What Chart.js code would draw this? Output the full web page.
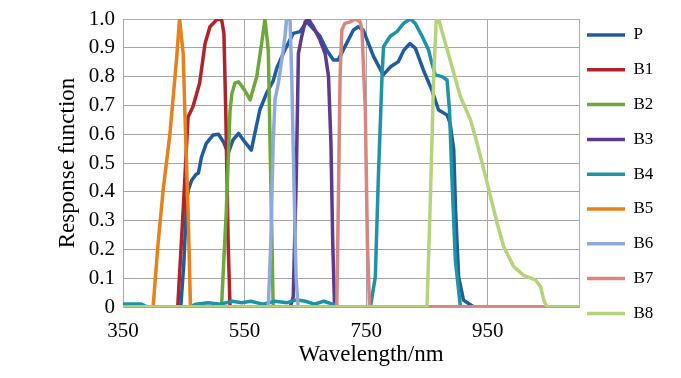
<!DOCTYPE html>
<html>
<head>
<meta charset="utf-8">
<script src="https://cdn.jsdelivr.net/npm/chart.js@4.4.1/dist/chart.umd.min.js"></script>
<style>
    html, body { margin: 0; padding: 0; background: #ffffff; }
    canvas { display: block; }
</style>
</head>
<body>
<canvas id="responseChart" width="681" height="378"></canvas>
<script>
// wavelength (nm), response
const seriesNames = ['P', 'B1', 'B2', 'B3', 'B4', 'B5', 'B6', 'B7', 'B8'];

const pData = [[350, 0], [445, 0], [450, 0.15], [455, 0.38], [458, 0.41], [463, 0.44], [470, 0.46],
    [474, 0.465], [479, 0.52], [487, 0.568], [498, 0.597], [507, 0.6], [515, 0.574], [523, 0.534],
    [531, 0.58], [540, 0.603], [550, 0.574], [561, 0.545], [575, 0.684], [586, 0.742], [597, 0.785],
    [603, 0.83], [616, 0.892], [630, 0.95], [641, 0.956], [652, 0.99], [660, 0.973], [674, 0.94],
    [685, 0.892], [696, 0.858], [704, 0.858], [715, 0.904], [729, 0.962], [737, 0.973], [745, 0.962],
    [762, 0.87], [778, 0.806], [790, 0.834], [803, 0.852], [812, 0.892], [822, 0.915], [831, 0.898],
    [844, 0.823], [858, 0.753], [869, 0.684], [883, 0.667], [888, 0.638], [894, 0.545], [897, 0.337],
    [902, 0.105], [910, 0.024], [927, 0], [1100, 0]];
const b1Data = [[350, 0], [440, 0], [449, 0.337], [457, 0.66], [465, 0.695], [476, 0.777], [485, 0.915],
    [493, 0.973], [504, 0.997], [512, 1.0], [516, 0.95], [519, 0.68], [523, 0.22], [526, 0], [1100, 0]];
const b2Data = [[350, 0], [512, 0], [520, 0.337], [526, 0.68], [529, 0.74], [534, 0.777], [540, 0.782],
    [550, 0.753], [559, 0.719], [570, 0.8], [578, 0.915], [583.5, 1.0], [589, 0.89], [593, 0.45],
    [597, 0], [1100, 0]];
const b3Data = [[350, 0], [625, 0], [630, 0.036], [635, 0.45], [638.5, 0.88], [644, 0.94], [649.5, 0.99],
    [655, 1.0], [663, 0.973], [674, 0.927], [682.5, 0.88], [688, 0.8], [692, 0.568], [695, 0.22],
    [698, 0], [1100, 0]];
const b4Data = [[350, 0.01], [380, 0.01], [390, 0], [460, 0], [470, 0.01], [490, 0.015], [510, 0.01],
    [530, 0.02], [545, 0.015], [560, 0.02], [580, 0.01], [600, 0.02], [620, 0.015], [635, 0.025],
    [650, 0.02], [665, 0.01], [680, 0.02], [695, 0.01], [705, 0], [757, 0], [765, 0.105], [770, 0.45],
    [776, 0.8], [778.5, 0.904], [789.5, 0.94], [800.6, 0.956], [811.5, 0.985], [822.5, 1.0],
    [830.7, 0.985], [842, 0.94], [852.6, 0.892], [858, 0.846], [863.7, 0.806], [874.7, 0.8],
    [883, 0.788], [887, 0.684], [891, 0.45], [896.6, 0.163], [905, 0], [1100, 0]];
const b5Data = [[350, 0], [399.5, 0], [407.7, 0.22], [416, 0.406], [427, 0.597], [438, 0.858],
    [443, 1.0], [449, 0.88], [451.7, 0.68], [457, 0.337], [461, 0], [1100, 0]];
const b6Data = [[350, 0], [589, 0], [593, 0.22], [597, 0.57], [600, 0.72], [605.5, 0.777], [611, 0.858],
    [616.5, 0.94], [619, 1.0], [624.7, 1.0], [627.5, 0.8], [631, 0.45], [634.6, 0.105], [638, 0],
    [1100, 0]];
const b7Data = [[350, 0], [701.6, 0], [704, 0.337], [707, 0.8], [710, 0.962], [715, 0.985],
    [723.6, 0.99], [732, 1.0], [740, 0.99], [743, 0.962], [748.5, 0.684], [752, 0.22], [755.5, 0],
    [1050, 0]];
const b8Data = [[350, 0], [850, 0], [855, 0.337], [861, 0.8], [865.3, 1.0], [869, 1.0], [905, 0.73],
    [921.5, 0.65], [932.5, 0.568], [949, 0.43], [965.5, 0.29], [976, 0.21], [992.7, 0.14],
    [1009, 0.11], [1028.5, 0.094], [1037, 0.07], [1042, 0.024], [1047.7, 0], [1100, 0]];

const seriesData = [pData, b1Data, b2Data, b3Data, b4Data, b5Data, b6Data, b7Data, b8Data];
const seriesColors = ['#1F5C9E', '#B0232A', '#6FA83A', '#5C3A8E', '#1E93A8',
    '#E8801C', '#8EAADC', '#D98580', '#B3D47A'];

const xTicks = [350, 550, 750, 950];
const yTicks = [0, 0.1, 0.2, 0.3, 0.4, 0.5, 0.6, 0.7, 0.8, 0.9, 1.0];

const serif = 'Liberation Serif';
const gridGrey = '#A6A6A6';
const frameBlue = '#8EB4E3';
const plotLeft = 123;
const plotTop = 19;
const plotRight = 579;
const plotBottom = 307;
const legendFont = 17;
const legendPad = 17.8;

// put the legend where the original has it
const legendPlacement = {
    id: 'legendPlacement',
    afterLayout(chart) {
        chart.legend.left = chart.chartArea.right + 8 - legendPad;
        chart.legend.top = 35 - legendPad - legendFont / 2;
    },
};

new Chart(document.getElementById('responseChart'), {
    type: 'line',
    data: {
        datasets: seriesNames.map((name, i) => ({
            label: name,
            data: seriesData[i].map((p) => ({ x: p[0], y: p[1] })),
            borderColor: seriesColors[i],
            backgroundColor: seriesColors[i],
            borderWidth: 3.5,
            pointRadius: 0,
            tension: 0,
            borderJoinStyle: 'round',
            borderCapStyle: 'round',
            order: seriesNames.length - i,
        })),
    },
    options: {
        responsive: false,
        animation: false,
        layout: { padding: 0 },
        scales: {
            x: {
                type: 'linear',
                min: 350,
                max: 1100,
                afterBuildTicks: (scale) => { scale.ticks = xTicks.map((v) => ({ value: v })); },
                afterFit: (scale) => { scale.height = 378 - plotBottom; },
                grid: { color: gridGrey, lineWidth: 1, drawTicks: false },
                border: { color: gridGrey, width: 1 },
                ticks: { color: '#000', padding: 12, font: { family: serif, size: 21 } },
                title: {
                    display: true,
                    text: '       Wavelength/nm',
                    color: '#000',
                    padding: { top: 0, bottom: 9 },
                    font: { family: serif, size: 23 },
                },
            },
            y: {
                min: 0,
                max: 1,
                afterBuildTicks: (scale) => { scale.ticks = yTicks.map((v) => ({ value: v })); },
                afterFit: (scale) => {
                    scale.width = plotLeft;
                    scale.paddingTop = plotTop;
                },
                grid: {
                    color: (ctx) => (ctx.tick && Math.abs(ctx.tick.value - 1) < 1e-9 ? frameBlue : gridGrey),
                    lineWidth: 1,
                    drawTicks: false,
                },
                border: { color: gridGrey, width: 1 },
                ticks: {
                    color: '#000',
                    padding: 8,
                    font: { family: serif, size: 21 },
                    callback: (v) => (v === 0 ? '0' : v.toFixed(1)),
                },
                title: {
                    display: true,
                    text: 'Response function',
                    color: '#000',
                    padding: { top: 54, bottom: 0 },
                    font: { family: serif, size: 23 },
                },
            },
            frame: {
                position: 'right',
                min: 0,
                max: 1,
                grid: { display: false },
                ticks: { display: false },
                border: { display: true, color: frameBlue, width: 1 },
                afterFit: (scale) => {
                    scale.width = Math.max(0, scale.chart.width - plotRight - scale.chart.legend.width);
                },
            },
        },
        plugins: {
            legend: {
                position: 'right',
                align: 'start',
                labels: {
                    color: '#000',
                    font: { family: serif, size: legendFont },
                    padding: legendPad,
                    usePointStyle: true,
                    pointStyle: 'line',
                    pointStyleWidth: 38,
                    sort: (a, b) => a.datasetIndex - b.datasetIndex,
                },
            },
            tooltip: { enabled: false },
        },
    },
    plugins: [legendPlacement],
});
</script>
</body>
</html>
